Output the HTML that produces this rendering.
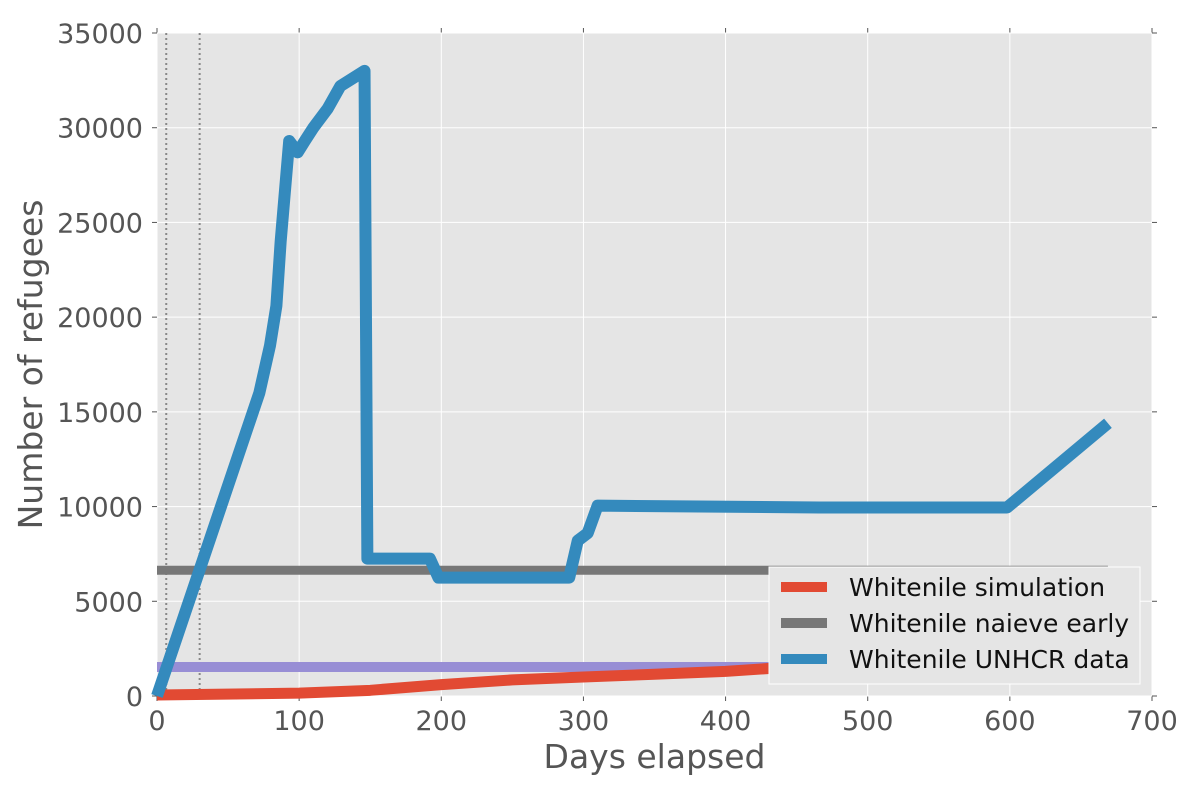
<!DOCTYPE html>
<html><head><meta charset="utf-8"><style>
body{margin:0;background:#fff;}
svg text{font-family:"DejaVu Sans","Liberation Sans",sans-serif;}
</style></head><body>
<svg width="1200" height="800" xmlns="http://www.w3.org/2000/svg">
<g id="root"></g>
</svg>
<script>
const xTicks=[0,100,200,300,400,500,600,700];
const yTicks=[0,5000,10000,15000,20000,25000,30000,35000];
const unhcrDays=[0,72,79.5,84,87,93,99,104,110,120,129,146,148,192,198,290,296,303,310,466,598,669];
const unhcrVals=[0,16000,18500,20600,24000,29300,28700,29300,30000,31000,32200,33000,7250,7250,6250,6250,8200,8600,10050,9950,9950,14400];
const simDays=[0,100,150,200,250,300,350,400,450,500,550,600,669];
const simVals=[50,150,300,600,850,1000,1150,1300,1550,1700,1850,2000,2200];
const naiveVal=[6640];
const naiveDays=[0,669];
const purpleVal=[1530];
const purpleDays=[0,669];
const markerDays=[6.5,30];

const L=157,R=1152,T=33,B=696;
const sx=d=>L+(d/700)*(R-L);
const sy=v=>B-(v/35000)*(B-T);
const NS="http://www.w3.org/2000/svg";
const root=document.getElementById('root');
function el(tag,attrs,parent){const e=document.createElementNS(NS,tag);for(const k in attrs)e.setAttribute(k,attrs[k]);(parent||root).appendChild(e);return e;}

const bg=el('rect',{x:L,y:T,width:R-L,height:B-T,fill:'#e5e5e5'});



xTicks.forEach(t=>{
  const g=el('line',{x1:sx(t),x2:sx(t),y1:T,y2:B,stroke:'#fff','stroke-width':1});
  
  
  el('line',{x1:sx(t),x2:sx(t),y1:B,y2:B+5,stroke:'#555'});
  el('line',{x1:sx(t),x2:sx(t),y1:T,y2:T-5,stroke:'#555'});
  const lb=el('text',{x:sx(t),y:B+34,'text-anchor':'middle','font-size':27,fill:'#555'});
  lb.textContent=t;
  
  
});
yTicks.forEach(t=>{
  const g=el('line',{x1:L,x2:R,y1:sy(t),y2:sy(t),stroke:'#fff','stroke-width':1});
  
  
  el('line',{x1:L,x2:L-5,y1:sy(t),y2:sy(t),stroke:'#555'});
  el('line',{x1:R,x2:R+5,y1:sy(t),y2:sy(t),stroke:'#555'});
  const lb=el('text',{x:L-14,y:sy(t)+10,'text-anchor':'end','font-size':27,fill:'#555'});
  lb.textContent=t;
  
  
});

markerDays.forEach(d=>{
  const m=el('line',{x1:sx(d),x2:sx(d),y1:T,y2:B,stroke:'#888','stroke-width':2,'stroke-dasharray':'2,3'});
  
  
});

function poly(days,vals,color,w,name){
  const p=el('polyline',{points:days.map((d,i)=>sx(d)+','+sy(vals[i])).join(' '),fill:'none',stroke:color,'stroke-width':w,'stroke-linejoin':'round'});
  
  
}
poly(purpleDays,purpleDays.map(()=>purpleVal[0]),'#988ed5',10,'purple-line');
poly(simDays,simVals,'#e24a33',11,'simulation-line');
poly(naiveDays,naiveDays.map(()=>naiveVal[0]),'#777777',9,'naive-early-line');
poly(unhcrDays,unhcrVals,'#348abd',12,'unhcr-data-line');

const leg=el('g',{});


el('rect',{x:769,y:567,width:371,height:117,fill:'#e5e5e5',stroke:'#fff','stroke-width':1},leg);
const items=[['Whitenile simulation','#e24a33'],['Whitenile naieve early','#777777'],['Whitenile UNHCR data','#348abd']];
items.forEach((it,i)=>{
  const y=587+i*36;
  el('rect',{x:781,y:y-5,width:46,height:10,fill:it[1]},leg);
  const t=el('text',{x:849,y:y+9,'font-size':25,fill:'#111'},leg);
  t.textContent=it[0];
  
  
});

const xt=el('text',{x:(L+R)/2,y:768,'text-anchor':'middle','font-size':33,fill:'#555'});
xt.textContent='Days elapsed';


const yt=el('text',{x:0,y:0,'text-anchor':'middle','font-size':33,fill:'#555',transform:'translate(42,'+((T+B)/2)+') rotate(-90)'});
yt.textContent='Number of refugees';


</script>
</body></html>
